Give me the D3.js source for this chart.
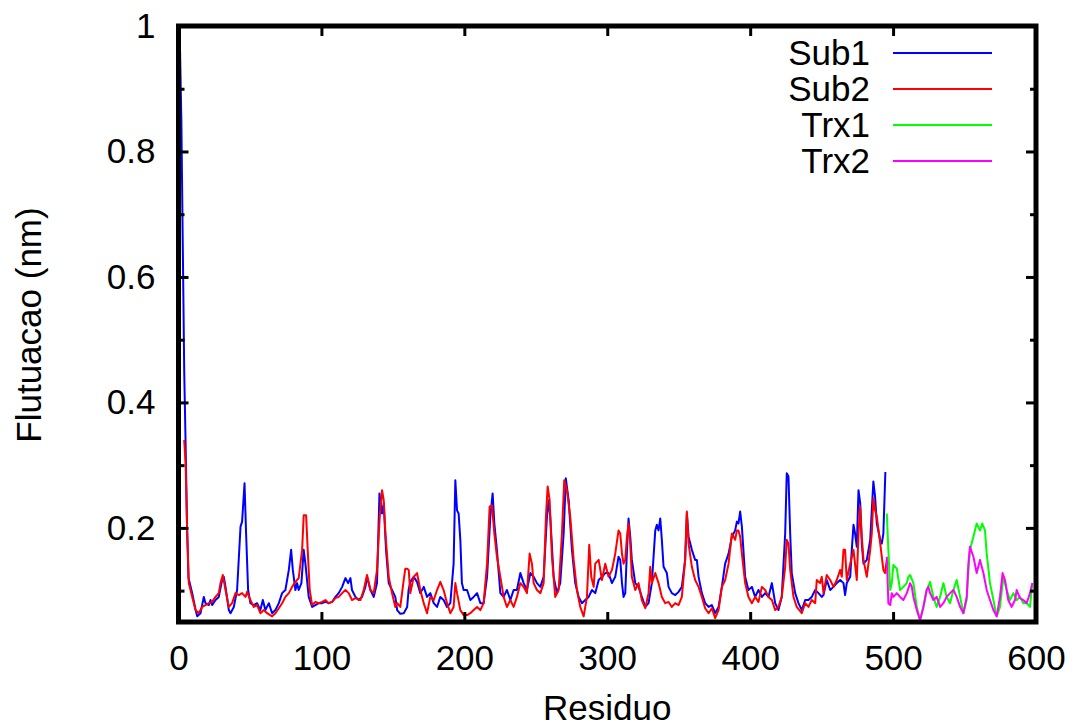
<!DOCTYPE html>
<html>
<head>
<meta charset="utf-8">
<script src="https://cdn.jsdelivr.net/npm/d3@7"></script>
<style>
  html, body { margin: 0; padding: 0; background: #fff; }
  svg { display: block; font-family: "Liberation Sans", Arial, sans-serif; }
</style>
</head>
<body>
<div id="chart"></div>
<script>
// [residue, fluctuation in nm]
const sub1 = [
  [0,1.0],[1,0.97],[2,0.85],[3,0.65],[4,0.45],[5,0.33],[6,0.2],[7,0.12],[9.6,0.096],[11.9,0.07],[13.1,0.059],[15.4,0.064],
  [17.7,0.09],[18.9,0.08],[21.2,0.077],[22.4,0.085],[23.5,0.077],[25.9,0.085],[28.2,0.09],[30.5,0.117],[31.7,0.122],
  [32.9,0.106],[35.2,0.069],[36.4,0.064],[38.7,0.074],[41,0.101],[43.4,0.202],[44.5,0.21],[46.2,0.271],[47.3,0.191],
  [48.7,0.101],[50.3,0.08],[52.7,0.077],[55,0.08],[57.3,0.069],[59,0.085],[60.8,0.069],[63.2,0.08],[65.5,0.064],
  [67.8,0.069],[70.2,0.08],[72.5,0.096],[74.8,0.101],[77.2,0.133],[78.8,0.165],[80,0.133],[81.8,0.101],[83,0.112],
  [84.1,0.101],[86,0.112],[87.6,0.165],[88.8,0.143],[91.1,0.09],[93.5,0.074],[95.8,0.077],[98.1,0.08],[100.5,0.08],
  [102.8,0.082],[105.1,0.08],[107.5,0.082],[109.8,0.09],[112.1,0.096],[114.5,0.106],[116.8,0.12],[118.7,0.112],
  [120.3,0.12],[121.4,0.101],[123.8,0.09],[126.1,0.085],[128.4,0.09],[130.8,0.106],[131.9,0.122],[134.3,0.101],
  [136.6,0.09],[138.9,0.112],[140.6,0.255],[142.4,0.223],[143.6,0.239],[145.2,0.165],[147.1,0.112],[149.4,0.101],
  [151.7,0.09],[153,0.069],[155.2,0.063],[157.6,0.064],[160,0.074],[161,0.101],[162.2,0.114],[164.6,0.122],
  [166.9,0.114],[169.2,0.096],[171.6,0.106],[173.9,0.09],[176.2,0.096],[178.6,0.08],[180.9,0.074],[183.2,0.09],
  [185.5,0.085],[187.9,0.074],[190.2,0.08],[192.5,0.143],[193.7,0.276],[194.9,0.228],[196,0.223],[197.2,0.181],
  [198.3,0.112],[199.5,0.101],[201.9,0.101],[204.2,0.085],[206.5,0.09],[208.9,0.096],[211.2,0.08],[213.5,0.08],
  [215.9,0.122],[218.2,0.218],[219.8,0.255],[221,0.207],[222.8,0.165],[225.2,0.096],[227.5,0.09],[229.8,0.101],
  [232.2,0.085],[234.5,0.101],[236.8,0.101],[239.2,0.128],[241.5,0.112],[243.8,0.101],[246.2,0.128],[248.5,0.122],
  [250.8,0.112],[253.2,0.106],[255.5,0.122],[257.8,0.218],[259,0.244],[260.1,0.218],[262.5,0.122],[264.8,0.096],
  [267.1,0.112],[269.5,0.191],[271,0.279],[273,0.244],[275.3,0.165],[277.6,0.112],[280,0.09],[282.3,0.08],
  [284.6,0.085],[287,0.09],[289.3,0.101],[291.6,0.096],[294,0.117],[296.3,0.122],[298.6,0.128],[300.9,0.128],
  [303.3,0.112],[305.6,0.122],[307.9,0.154],[309.1,0.149],[310.3,0.112],[311.4,0.09],[312.6,0.096],[313.8,0.165],
  [314.9,0.215],[316.1,0.186],[317.2,0.149],[319.6,0.112],[321.9,0.106],[324.2,0.09],[326.6,0.074],[328.9,0.08],
  [331.2,0.112],[333.6,0.196],[334.7,0.205],[335.9,0.196],[337.1,0.215],[338.2,0.181],[339.4,0.138],[341.7,0.128],
  [342.9,0.106],[345.2,0.096],[347.6,0.093],[349.9,0.098],[352.2,0.106],[354.5,0.149],[355.7,0.223],[356.9,0.186],
  [359.2,0.165],[361.5,0.149],[362.7,0.149],[363.9,0.122],[366.2,0.096],[368.5,0.08],[370.9,0.074],[373.2,0.077],
  [375.5,0.064],[377.9,0.074],[380.2,0.106],[382.5,0.143],[384.9,0.159],[387.2,0.186],[389.5,0.196],[390.7,0.21],
  [391.8,0.207],[393,0.226],[394.2,0.202],[396.5,0.122],[398.8,0.101],[401.2,0.106],[403.5,0.09],[405.8,0.101],
  [408.2,0.09],[410.5,0.096],[412.8,0.09],[415.2,0.112],[417.5,0.08],[419.8,0.069],[422.1,0.09],[424.5,0.191],
  [425.6,0.287],[426.8,0.282],[428,0.191],[429.1,0.128],[431.5,0.096],[433.8,0.08],[436.1,0.069],[438.5,0.085],
  [440.8,0.085],[443.1,0.09],[445.5,0.101],[447.8,0.096],[450.1,0.09],[451.3,0.093],[453.6,0.117],[456,0.101],
  [458.3,0.106],[460.6,0.112],[463,0.117],[465.3,0.112],[466.4,0.093],[467.6,0.112],[470,0.122],[471.1,0.165],
  [472.3,0.205],[473.4,0.191],[474.6,0.17],[475.8,0.26],[477,0.239],[478.1,0.175],[479.3,0.143],[481.6,0.149],
  [484,0.181],[485.1,0.228],[486.2,0.274],[487.4,0.25],[488.6,0.207],[491,0.181],[492.1,0.175],[493.2,0.191],[494.6,0.289]
];
const sub2 = [
  [4,0.34],[5,0.3],[6,0.2],[7.2,0.112],[9.6,0.09],[11.9,0.069],[14.2,0.064],[16.5,0.074],[18.9,0.077],
  [21.2,0.08],[23.5,0.082],[25.9,0.09],[28.2,0.096],[29.4,0.112],[31,0.125],[32.9,0.101],[35.2,0.074],[37.5,0.08],
  [39.9,0.096],[42.2,0.093],[44.5,0.096],[46.9,0.09],[48,0.098],[50.3,0.085],[52.7,0.074],[55,0.077],[57.3,0.064],
  [59.7,0.069],[62,0.064],[65.5,0.059],[67.8,0.064],[70.2,0.072],[72.5,0.08],[74.8,0.09],[77.2,0.096],[79.5,0.106],
  [81.8,0.114],[84.1,0.12],[86.5,0.165],[87.6,0.22],[89.3,0.22],[90.4,0.165],[91.8,0.101],[93.5,0.077],[95.8,0.082],
  [98.1,0.08],[100.5,0.082],[102.8,0.085],[105.1,0.08],[107.5,0.082],[109.8,0.088],[112.1,0.09],[114.5,0.096],
  [116.8,0.101],[119.1,0.096],[121.4,0.085],[123.8,0.088],[127.3,0.085],[129.6,0.101],[131.9,0.125],[134.3,0.101],
  [136.6,0.096],[138.9,0.133],[140.8,0.218],[142.4,0.26],[143.6,0.244],[144.8,0.191],[147.1,0.122],[149.4,0.096],
  [151.7,0.074],[153,0.08],[155.2,0.074],[157.6,0.117],[158.7,0.135],[160,0.135],[161.1,0.133],[162.2,0.096],
  [164.6,0.122],[166.9,0.128],[169.2,0.101],[171.6,0.08],[173.9,0.064],[176.2,0.09],[178.6,0.085],[180.9,0.101],
  [183.2,0.114],[185.5,0.101],[187.9,0.08],[190.2,0.064],[192.5,0.074],[193.7,0.112],[194.9,0.096],[197.2,0.069],
  [199.5,0.061],[201.9,0.061],[204.2,0.064],[206.5,0.069],[208.9,0.074],[211.2,0.069],[213.5,0.08],[215.9,0.143],
  [217.7,0.234],[219.3,0.236],[221,0.191],[222.8,0.154],[225.2,0.122],[227.5,0.09],[229.8,0.074],[232.2,0.085],
  [234.5,0.074],[236.8,0.09],[239.2,0.112],[241.5,0.106],[243.8,0.096],[245.7,0.159],[247.3,0.143],[248.5,0.112],
  [250.8,0.101],[253.2,0.096],[255.5,0.112],[257.1,0.218],[258.3,0.266],[259.7,0.244],[261.3,0.154],[263.6,0.09],
  [266,0.101],[268.3,0.191],[269.9,0.276],[271.8,0.26],[274.1,0.218],[276.5,0.149],[278.8,0.101],[281.1,0.074],
  [283.5,0.059],[285.8,0.09],[287.4,0.173],[288.8,0.122],[290.5,0.106],[291.6,0.143],[294,0.149],[296.3,0.117],
  [298.6,0.143],[300.9,0.122],[303.3,0.133],[305.6,0.159],[307.9,0.196],[309.1,0.191],[310.3,0.159],[311.4,0.143],
  [312.6,0.149],[313.8,0.186],[314.9,0.207],[316.1,0.175],[317.2,0.122],[319.6,0.101],[321.9,0.112],[324.2,0.085],
  [326.6,0.072],[328.9,0.096],[330.1,0.138],[331.2,0.112],[333.6,0.128],[335.9,0.112],[338.2,0.09],[340.6,0.08],
  [342.9,0.082],[345.2,0.074],[347.6,0.08],[349.9,0.077],[352.2,0.09],[354.5,0.149],[355.7,0.226],[356.9,0.175],
  [359.2,0.138],[361.5,0.117],[363.9,0.106],[366.2,0.09],[368.5,0.072],[370.9,0.064],[373.2,0.072],[375.5,0.056],
  [377.9,0.069],[380.2,0.106],[382.5,0.117],[384.9,0.143],[387.2,0.191],[389.5,0.181],[390.7,0.196],[391.8,0.196],
  [393,0.186],[394.2,0.159],[396.5,0.112],[398.8,0.09],[401.2,0.08],[403.5,0.09],[405.8,0.082],[408.2,0.106],
  [410.5,0.101],[412.8,0.09],[415.2,0.085],[417.5,0.069],[419.8,0.074],[422.1,0.09],[424.5,0.138],[425.6,0.181],
  [426.8,0.175],[428,0.133],[430.3,0.09],[432.6,0.074],[436.1,0.064],[438.5,0.08],[440.8,0.074],[443.1,0.085],
  [445.5,0.08],[446.6,0.117],[448.9,0.112],[450.1,0.122],[451.3,0.096],[453.6,0.125],[456,0.117],[458.3,0.106],
  [460.6,0.117],[463,0.133],[464.1,0.122],[465.3,0.165],[466.4,0.165],[467.6,0.117],[470,0.143],[472.3,0.165],
  [474.6,0.117],[475.8,0.191],[477,0.234],[478.1,0.186],[479.3,0.149],[481.6,0.122],[484,0.165],[485.1,0.191],
  [486.2,0.247],[487.4,0.228],[488.6,0.218],[491,0.175],[493.2,0.133],[494.4,0.128],[495.6,0.149]
];
const trx1 = [
  [495.6,0.223],[496.7,0.165],[498,0.101],[499.1,0.112],[500.2,0.141],[502.6,0.135],[504.9,0.101],[507.2,0.106],
  [509.6,0.112],[510.7,0.122],[511.9,0.125],[514.2,0.112],[516.6,0.074],[518.9,0.053],[521.2,0.074],[523.5,0.101],
  [525.9,0.114],[528.2,0.09],[530.5,0.074],[532.9,0.09],[535.2,0.112],[537.5,0.09],[539.9,0.08],[542.2,0.101],
  [544.5,0.117],[546.9,0.09],[549.2,0.064],[551.5,0.085],[552.7,0.133],[553.8,0.165],[556.2,0.186],[558.5,0.207],
  [560.8,0.196],[562.4,0.207],[564.3,0.196],[565.5,0.159],[567.8,0.112],[570.2,0.085],[572.5,0.059],[574.8,0.074],
  [577.2,0.122],[579.5,0.101],[581.8,0.085],[584.2,0.096],[586.5,0.085],[588.8,0.09],[591.1,0.08],[593.5,0.08],
  [595.8,0.074],[597.4,0.112]
];
const trx2 = [
  [495.6,0.154],[496.7,0.08],[498,0.077],[499.1,0.096],[500.2,0.09],[502.6,0.096],[504.9,0.09],[507.2,0.085],
  [509.6,0.096],[511.9,0.112],[513.1,0.106],[514.2,0.09],[516.6,0.069],[518.9,0.053],[521.2,0.074],[523.5,0.101],
  [524.7,0.106],[525.9,0.096],[528.2,0.085],[530.5,0.09],[532.9,0.074],[535.2,0.08],[537.5,0.09],[539.9,0.096],
  [542.2,0.101],[544.5,0.09],[546.9,0.074],[549.2,0.064],[551.5,0.09],[552.7,0.143],[553.8,0.17],[556.2,0.154],
  [558.5,0.128],[560.8,0.149],[563.2,0.128],[565.5,0.101],[567.8,0.085],[570.2,0.069],[572.5,0.059],[574.8,0.09],
  [576.6,0.128],[578.3,0.117],[580.6,0.085],[582.9,0.074],[585.3,0.085],[586.5,0.101],[588.8,0.088],[591.1,0.085],
  [593.5,0.08],[595.8,0.096],[597.4,0.112]
];

const seriesNames = ["Sub1", "Sub2", "Trx1", "Trx2"];
const seriesColors = ["#0000ff", "#ff0000", "#00ff00", "#ff00ff"];
const seriesData = [sub1, sub2, trx1, trx2];

const xTicks = [0, 100, 200, 300, 400, 500, 600];
const yMajorTicks = [0.2, 0.4, 0.6, 0.8, 1];
const yMinorTicks = [0.1, 0.3, 0.5, 0.7, 0.9];

const W = 1075, H = 728;
const plot = {left: 178.5, right: 1036, top: 26, bottom: 622};
const fontSize = 35;

const svg = d3.select("#chart").append("svg")
    .attr("width", W)
    .attr("height", H);

const x = d3.scaleLinear().domain([0, 600]).range([plot.left, plot.right]);
const y = d3.scaleLinear().domain([0.05, 1]).range([plot.bottom, plot.top]);

// clip lines to the frame
svg.append("clipPath").attr("id", "clip")
  .append("rect")
    .attr("x", plot.left).attr("y", plot.top)
    .attr("width", plot.right - plot.left)
    .attr("height", plot.bottom - plot.top);

const line = d3.line()
    .x(d => x(d[0]))
    .y(d => y(d[1]));

const lines = svg.append("g").attr("clip-path", "url(#clip)");
seriesData.forEach((data, i) => {
    lines.append("path")
        .datum(data)
        .attr("fill", "none")
        .attr("stroke", seriesColors[i])
        .attr("stroke-width", 2)
        .attr("stroke-linejoin", "round")
        .attr("d", line);
});

// axes: ticks point inward, mirrored on the opposite side
function styleAxis(g) {
    g.select(".domain").remove();
    g.selectAll(".tick line").attr("stroke", "#000").attr("stroke-width", 3);
    g.selectAll(".tick text")
        .attr("fill", "#000")
        .style("font-size", fontSize + "px")
        .style("font-family", "'Liberation Sans', Arial, sans-serif");
}

const fmt = d => (d === 1 ? "1" : d3.format(".1f")(d));

svg.append("g")
    .attr("transform", `translate(${plot.left},0)`)
    .call(d3.axisLeft(y).tickValues(yMajorTicks).tickSize(-10).tickPadding(23).tickFormat(fmt))
    .call(styleAxis);
svg.append("g")
    .attr("transform", `translate(${plot.left},0)`)
    .call(d3.axisLeft(y).tickValues(yMinorTicks).tickSize(-6).tickFormat(""))
    .call(styleAxis);
svg.append("g")
    .attr("transform", `translate(${plot.right},0)`)
    .call(d3.axisRight(y).tickValues(yMajorTicks).tickSize(-10).tickFormat(""))
    .call(styleAxis);
svg.append("g")
    .attr("transform", `translate(${plot.right},0)`)
    .call(d3.axisRight(y).tickValues(yMinorTicks).tickSize(-6).tickFormat(""))
    .call(styleAxis);
svg.append("g")
    .attr("transform", `translate(0,${plot.bottom})`)
    .call(d3.axisBottom(x).tickValues(xTicks).tickSize(-10).tickPadding(23))
    .call(styleAxis);
svg.append("g")
    .attr("transform", `translate(0,${plot.top})`)
    .call(d3.axisTop(x).tickValues(xTicks).tickSize(-10).tickFormat(""))
    .call(styleAxis);

// frame
svg.append("rect")
    .attr("x", plot.left).attr("y", plot.top)
    .attr("width", plot.right - plot.left)
    .attr("height", plot.bottom - plot.top)
    .attr("fill", "none")
    .attr("stroke", "#000")
    .attr("stroke-width", 5);

// axis titles
svg.append("text")
    .attr("x", (plot.left + plot.right) / 2)
    .attr("y", 720)
    .attr("text-anchor", "middle")
    .style("font-size", fontSize + "px")
    .text("Residuo");

svg.append("text")
    .attr("transform", "translate(41,325) rotate(-90)")
    .attr("text-anchor", "middle")
    .style("font-size", fontSize + "px")
    .text("Flutuacao (nm)");

// legend
const legend = svg.append("g");
seriesNames.forEach((name, i) => {
    const ly = 53 + i * 36;
    legend.append("text")
        .attr("x", 870)
        .attr("y", ly + 12)
        .attr("text-anchor", "end")
        .style("font-size", fontSize + "px")
        .text(name);
    legend.append("line")
        .attr("x1", 893).attr("x2", 992)
        .attr("y1", ly).attr("y2", ly)
        .attr("stroke", seriesColors[i])
        .attr("stroke-width", 2);
});
</script>
</body>
</html>
